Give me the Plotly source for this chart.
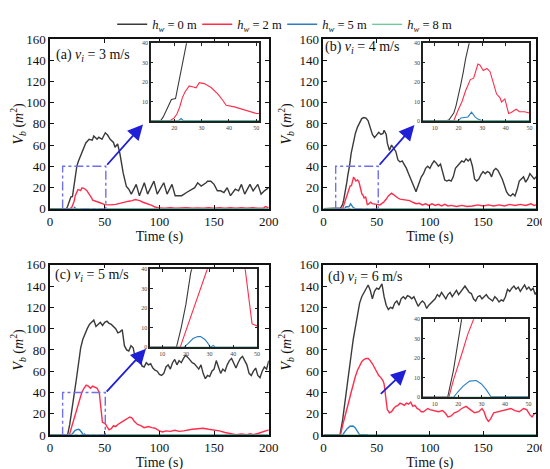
import plotly.graph_objects as go

# ---- values (t in s, V_b in m^2) ----
# (a) v_i = 3 m/s
a_t0 = [0, 15, 16, 17, 18, 19, 20.5, 22, 23, 24.5, 26, 28, 30, 32.7, 35.7, 38.6, 40, 43, 44.6, 47.5,
        50.5, 52.6, 55, 58, 59.4, 61.8, 63.9, 66.9, 69.8, 72, 74.3, 78.8, 81.7, 86.2, 89.2, 95, 98,
        104, 107, 111.5, 114.4, 120.4, 124.8, 129.3, 132.3, 135, 138.2, 142.7, 144, 147, 150, 153,
        156, 159, 162, 165, 169.4, 172.4, 175, 178, 182.8, 185.7, 190, 193, 196, 200]
a_v0 = [0, 0, 2, 5, 8, 11, 11.5, 22, 30, 40, 45, 50, 55, 62, 65.5, 64.6, 68.6, 65.5, 67.5, 65.5,
        71.6, 69.5, 65.5, 62.5, 58, 61, 51.8, 33.5, 21, 18.3, 13.7, 22.9, 12.2, 24.4, 13.7, 25.9, 13.7,
        24.4, 13.7, 22.9, 12.2, 12.2, 15.2, 18.3, 19.8, 24.4, 21.3, 24.4, 25.9, 25.9, 22.9, 16.8,
        16.8, 15.2, 19.8, 12.2, 18.3, 16.8, 22.9, 13.7, 22.9, 16.8, 22.9, 13.7, 16.8, 19.8]
a_t2 = [0, 18.5, 20, 21, 22, 23, 24, 25.5, 27, 28, 29.2, 31, 33.5, 36, 37.8, 39, 42, 45.7, 50, 55,
        60, 65, 70, 72, 75, 78, 80, 82, 85, 88, 90, 93, 96, 100, 105, 110, 115, 120, 125, 130,
        135, 140, 145, 150, 155, 160, 165, 170, 175, 180, 185, 190, 195, 197, 200]
a_v2 = [0, 0, 1.5, 3.5, 7, 12, 15, 18, 17.5, 17, 19.7, 19.2, 17.2, 13.8, 10.5, 8, 7.2, 5.5, 3.8, 3.5,
        4, 5.5, 6.5, 7, 7.5, 8.5, 8, 7.5, 6, 5, 4, 3, 1.5, 0.5, 0.3, 0.8, 0.3, 0.5, 0.9, 0.3,
        0.7, 0.3, 0.8, 0.3, 0.9, 0.4, 0.8, 0.3, 0.9, 0.3, 0.8, 0.4, 0.3, 2, 0.6]
a_t5 = [0, 21.5, 22.5, 23.5, 200]
a_v5 = [0, 0, 1.2, 0, 0]

# (b) v_i = 4 m/s
b_t0 = [0, 15, 16, 17, 18, 19, 20, 21, 22, 23, 24.5, 26, 28, 30, 32, 34, 36, 38, 40, 42,
        44, 46, 48, 50, 52, 54, 56, 57, 59, 60, 62, 64, 66, 68, 70, 72, 74, 76, 78, 80,
        82, 84, 86, 87, 88, 90, 92, 94, 96, 98,
        100, 102, 104, 106, 108, 110, 112, 114, 116, 118, 120, 122, 124, 126, 128, 130, 132, 134,
        136, 138, 140, 142, 144, 146, 148, 150, 152, 154, 156, 158, 160, 162, 164, 166, 168, 170,
        172, 174, 176, 178, 180, 182, 184, 186, 188, 190, 192, 194, 196, 198, 200]
b_v0 = [0, 0, 0.5, 2, 4, 8, 13, 19, 25, 32, 40, 52, 63, 71, 77, 81, 85, 86, 85.5, 83,
        76, 70, 67, 70, 72, 70, 71, 74, 70, 62, 55, 60, 57, 54, 46, 44, 45, 42, 38, 33,
        28, 22, 18, 16, 19, 25, 30, 33, 38, 40,
        38, 42, 45, 43, 40, 42, 35, 27, 26, 27, 26, 30, 38, 40, 42, 45, 44, 47,
        45, 47, 40, 28, 26, 28, 32, 35, 33, 35, 34, 30, 36, 38, 36, 32, 28, 22,
        16, 13, 12, 14, 12, 18, 26, 28, 30, 25, 28, 33, 30, 28, 30]
b_t2 = [0, 18, 20, 21.5, 23, 25, 26.4, 28.2, 29, 30.5, 32, 33.3, 34.7, 36.1, 37.5, 38.2, 39.6, 41.2,
        42.3, 44.4, 45.8, 47.9, 50, 53, 56.5, 59, 61, 64, 67, 70, 72, 76, 81, 84, 87, 90, 93, 96,
        99, 102, 105, 108, 111, 114, 117, 120, 125, 130, 135, 140, 145, 150, 155, 160, 165, 170,
        175, 180, 185, 190, 195, 198, 200]
b_v2 = [0, 0, 6, 10, 15.5, 21.3, 22, 29.3, 28.8, 26, 27, 25.5, 19.7, 13.8, 12, 9.7, 11.3, 3.8,
        4.3, 6, 4.7, 4.7, 4, 3.5, 6, 9, 12, 14.6, 12, 10, 9, 8.5, 7.6, 6, 4.6, 5, 3.5, 4.5,
        3, 4.5, 3, 4, 2.5, 4, 2.5, 3, 2, 3, 2, 2.5, 3.5, 2.5, 3.5, 2.5, 3.5, 2.5,
        4, 3, 4, 3, 4.5, 3, 3.5]
b_t5 = [0, 20, 21, 23, 24, 25.5, 27, 28, 29, 30, 200]
b_v5 = [0, 0, 1.5, 2, 2, 4.5, 2, 1, 0.5, 0, 0]

# (c) v_i = 5 m/s
c_t0 = [0, 16, 18, 20, 22, 24, 26, 28, 30, 32, 34, 36, 38, 40, 42, 44, 46, 48, 50, 52, 54, 56,
        58, 60, 62, 64, 66, 68, 70, 72, 74, 76, 78, 80, 82, 84, 86, 88, 90, 92, 94, 96, 98,
        100, 102, 104, 106, 108, 110, 112, 114, 116, 118, 120, 122, 124, 126, 128, 130, 132,
        134, 136, 138, 140, 142, 144, 146, 148, 150, 152, 154, 156, 158, 160, 162, 164, 166,
        168, 170, 172, 174, 176, 178, 180, 182, 184, 186, 188, 190, 192, 194, 196, 198, 200]
c_v0 = [0, 0, 10, 22, 38, 52, 68, 82, 90, 96, 100, 104, 106, 108, 102, 104, 106, 103, 106, 107, 105, 104,
        102, 100, 96, 97, 99, 84, 80, 79, 84, 82, 72, 69, 74, 65, 64, 68, 66, 67, 63, 61, 60,
        57, 56, 58, 64, 66, 62, 68, 71, 66, 70, 68, 72, 75, 73, 70, 68, 67,
        64, 62, 66, 58, 53, 56, 55, 60, 62, 70, 64, 58, 62, 60, 66, 70, 72,
        68, 63, 68, 72, 74, 70, 66, 58, 56, 60, 63, 56, 54, 60, 64, 62, 70]
c_t2 = [0, 17.6, 19, 21, 23, 25, 27, 29, 31, 33, 35, 37, 39, 41, 43, 45, 46.5, 47.9, 50, 51,
        52, 54, 56, 58, 60, 62, 65, 68, 70, 73, 75, 77, 80, 83, 86, 88, 90, 93, 96, 100,
        103, 106, 110, 114, 118, 122, 126, 130, 135, 140, 145, 150, 155, 160, 165, 170, 175, 180,
        183, 186, 190, 195, 198, 200]
c_v2 = [0, 0, 5, 12, 19, 26, 33, 40, 44, 47, 46, 44, 46, 45, 44, 40, 25, 12, 11, 10,
        8, 5, 6, 9, 8, 10, 12, 14, 15, 17, 16, 13, 10, 9, 7, 7.5, 8, 7, 6.5, 4,
        3, 4, 3.5, 4.5, 3.5, 4, 5, 5.5, 6, 6.5, 5.5, 5, 4, 2.5, 1.5, 0.5, 1, 0.5,
        1.2, 0.5, 1.5, 3.5, 4.5, 5]
c_t5 = [0, 19.2, 21, 22, 23, 24, 25, 26.2, 27, 28, 29, 30.4, 31.5, 32.5, 200]
c_v5 = [0, 0, 2, 3.5, 4.5, 5, 5.5, 5.5, 5, 4, 2.5, 0, 1, 0, 0]

# (d) v_i = 6 m/s
d_t0 = [0, 15.5, 18, 20, 22, 24, 26, 28, 30, 32, 34, 36, 38, 40, 42, 44, 46, 48, 50, 52, 54, 55,
        57, 59, 61, 63, 65, 67, 69, 71, 73, 75, 77, 79, 81, 83, 85, 87, 89, 91, 93, 95,
        97, 99, 101, 103, 105, 107, 109, 111, 113, 115, 117, 119, 121, 123, 125, 127, 129, 131,
        133, 135, 137, 139, 141, 143, 145, 147, 149, 151, 153, 155, 157, 159, 161, 163, 165, 167,
        169, 171, 173, 175, 177, 179, 181, 183, 185, 187, 189, 191, 193, 195, 197, 199, 200]
d_v0 = [0, 0, 14, 28, 44, 60, 75, 90, 102, 115, 124, 130, 134, 138, 141, 136, 128, 135, 138, 137, 141, 142,
        130, 122, 118, 120, 119, 124, 126, 122, 128, 130, 128, 131, 130, 128, 130, 126, 121, 124, 126, 124,
        119, 122, 124, 126, 128, 132, 130, 134, 131, 128, 132, 134, 130, 133, 136, 132, 135, 138,
        140, 137, 134, 133, 128, 126, 130, 131, 128, 130, 132, 129, 127, 126, 130, 128, 125, 127,
        126, 130, 137, 135, 138, 140, 137, 139, 135, 138, 141, 137, 139, 136, 138, 132, 134]
d_t2 = [0, 16, 18, 20, 22, 24, 26, 28, 30, 32, 34, 36, 38, 40, 42, 44, 46, 48, 50, 52,
        54, 56, 57, 58, 59, 60, 62, 64, 66, 68, 70, 72, 74, 76, 78, 80, 82, 84, 86, 88,
        90, 92, 94, 96, 98, 100, 104, 108, 112, 115, 117, 120, 123, 126, 130, 134, 138, 142,
        146, 149, 151, 153, 155, 157, 160, 164, 168, 172, 176, 180, 184, 188, 191, 194, 196, 198, 200]
d_v2 = [0, 0, 9, 16, 24, 32, 40, 48, 55, 61, 65, 69, 71, 72, 72, 70, 67, 63, 59, 56,
        54, 51, 48, 38, 30, 24, 21, 22, 25, 27, 28, 30, 29, 28, 30, 29, 31, 27, 28, 25,
        24, 22, 22, 24, 25, 24, 23, 22, 23, 20, 17, 18, 21, 22, 25, 27, 24, 21,
        22, 25, 22, 16, 13, 15, 21, 22, 23, 24, 25, 23, 22, 25, 24, 19, 17, 20, 21]
d_t5 = [0, 18, 20, 22.1, 24.9, 27.7, 29.8, 31.9, 34, 41, 42, 200]
d_v5 = [0, 0, 3, 5.8, 8.3, 8.6, 7, 4.1, 0.3, 0.3, 0, 0]

# h_w = 8 m stays at zero in every case
t_h8 = [0, 200]
v_h8 = [0, 0]

series_names = ["<i>h</i><sub><i>w</i></sub> = 0 m", "<i>h</i><sub><i>w</i></sub> = 2 m",
                "<i>h</i><sub><i>w</i></sub> = 5 m", "<i>h</i><sub><i>w</i></sub> = 8 m"]
colors = ["#3a3a3a", "#ff2d4b", "#2b7fc1", "#3cb878"]
widths = [1.4, 1.4, 1.4, 1.1]

W, H = 550, 469
SERIF = "Liberation Serif, DejaVu Serif, serif"


def fx(p):
    return p / W


def fy(p):
    return 1 - p / H


panels = [
    dict(label="(a) <i>v</i><sub><i>i</i></sub> = 3 m/s", lab=(44, 42),
         data=[(a_t0, a_v0), (a_t2, a_v2), (a_t5, a_v5), (t_h8, v_h8)],
         main=(40, 264, 25, 200), inset=(143.3, 254, 29.3, 109.3), irange=[11.5, 51],
         ixticks=[20, 30, 40, 50], iyticks=[10, 20, 30, 40],
         box=[11.5, 51], arrow=(51, 40, 85, 79.5)),
    dict(label="(b) <i>v</i><sub><i>i</i></sub> = 4 m/s", lab=(320, 34),
         data=[(b_t0, b_v0), (b_t2, b_v2), (b_t5, b_v5), (t_h8, v_h8)],
         main=(320, 538, 25, 200), inset=(422, 531, 29.3, 109.3), irange=[5, 50],
         ixticks=[10, 20, 30, 40, 50], iyticks=[0, 10, 20, 30, 40],
         box=[11.5, 51.5], arrow=(51.5, 40, 85.5, 79)),
    dict(label="(c) <i>v</i><sub><i>i</i></sub> = 5 m/s", lab=(43, 269),
         data=[(c_t0, c_v0), (c_t2, c_v2), (c_t5, c_v5), (t_h8, v_h8)],
         main=(40, 264, 258, 434), inset=(142.7, 252, 262.7, 343.3), irange=[5, 50],
         ixticks=[10, 20, 30, 40, 50], iyticks=[0, 10, 20, 30, 40],
         box=[11.5, 50.5], arrow=(50.5, 39.5, 87.7, 81)),
    dict(label="(d) <i>v</i><sub><i>i</i></sub> = 6 m/s", lab=(323, 271),
         data=[(d_t0, d_v0), (d_t2, d_v2), (d_t5, d_v5), (t_h8, v_h8)],
         main=(320, 538, 258, 434), inset=(422, 530, 314.3, 395), irange=[5, 50],
         ixticks=[10, 20, 30, 40, 50], iyticks=[0, 10, 20, 30, 40],
         box=None, arrow=(52.5, 37.3, 77.9, 61.5)),
]

fig = go.Figure()
layout = dict(width=W, height=H, margin=dict(l=0, r=0, t=0, b=0),
              paper_bgcolor="white", plot_bgcolor="white",
              font=dict(family=SERIF, size=12, color="#111"),
              showlegend=True,
              legend=dict(orientation="h", x=0.505, xanchor="center", y=1.012, yanchor="top",
                          font=dict(family=SERIF, size=12.5, color="#111"), itemwidth=30,
                          entrywidth=40, bgcolor="rgba(0,0,0,0)", tracegroupgap=0),
              shapes=[], annotations=[])

for i, p in enumerate(panels):
    m = str(i + 1)
    n = str(i + 5)
    for k, (t, v) in enumerate(p["data"]):
        fig.add_trace(go.Scatter(x=t, y=v, mode="lines", name=series_names[k],
                                 line=dict(color=colors[k], width=widths[k]),
                                 xaxis="x" + m, yaxis="y" + m,
                                 showlegend=(i == 0), legendgroup=str(k)))
    for k, (t, v) in enumerate(p["data"]):
        fig.add_trace(go.Scatter(x=t, y=v, mode="lines", name=series_names[k],
                                 line=dict(color=colors[k], width=1.1),
                                 xaxis="x" + n, yaxis="y" + n,
                                 showlegend=False, legendgroup=str(k)))

    x0, x1, y0, y1 = p["main"]
    axis_common = dict(showline=True, linecolor="#111", linewidth=1.5, mirror="allticks",
                       ticks="inside", ticklen=4, tickcolor="#111", showgrid=False, zeroline=False)
    layout["xaxis" + m] = dict(axis_common, domain=[fx(x0), fx(x1)], range=[0, 200],
                               tickvals=[0, 50, 100, 150, 200], anchor="y" + m,
                               tickfont=dict(family=SERIF, size=13),
                               title=dict(text="Time (s)", font=dict(family=SERIF, size=14),
                                          standoff=2))
    layout["yaxis" + m] = dict(axis_common, domain=[fy(y1), fy(y0)], range=[0, 160],
                               dtick=20, anchor="x" + m, tickfont=dict(family=SERIF, size=13),
                               title=dict(text="<i>V</i><sub><i>b</i></sub> (<i>m</i><sup>2</sup>)",
                                          font=dict(family=SERIF, size=14), standoff=5))

    ix0, ix1, iy0, iy1 = p["inset"]
    inset_common = dict(showline=True, linecolor="#222", linewidth=1.6, mirror="allticks",
                        ticks="inside", ticklen=2.5, tickcolor="#222", showgrid=False,
                        zeroline=False, tickfont=dict(family=SERIF, size=6, color="#444"))
    layout["xaxis" + n] = dict(inset_common, domain=[fx(ix0), fx(ix1)], range=p["irange"],
                               tickvals=p["ixticks"], anchor="y" + n)
    layout["yaxis" + n] = dict(inset_common, domain=[fy(iy1), fy(iy0)], range=[0, 40],
                               tickvals=p["iyticks"], anchor="x" + n)

    # panel label
    layout["annotations"].append(dict(text=p["label"], xref="paper", yref="paper",
                                      x=fx(p["lab"][0]), y=fy(p["lab"][1]),
                                      xanchor="left", yanchor="middle", showarrow=False,
                                      font=dict(family=SERIF, size=14, color="#111")))
    # zoom box
    if p["box"]:
        layout["shapes"].append(dict(type="rect", xref="x" + m, yref="y" + m,
                                     x0=p["box"][0], x1=p["box"][1], y0=0, y1=40,
                                     line=dict(color="#7070e8", width=1.4, dash="dashdot")))
    # arrow towards the inset
    tx, ty, hx, hy = p["arrow"]
    layout["annotations"].append(dict(text="", x=hx, y=hy, ax=tx, ay=ty,
                                      xref="x" + m, yref="y" + m, axref="x" + m, ayref="y" + m,
                                      showarrow=True, arrowhead=2, arrowsize=1.7,
                                      arrowwidth=1.8, arrowcolor="#1f1fd6", standoff=0))

fig.update_layout(layout)
fig.write_html("out.html")
